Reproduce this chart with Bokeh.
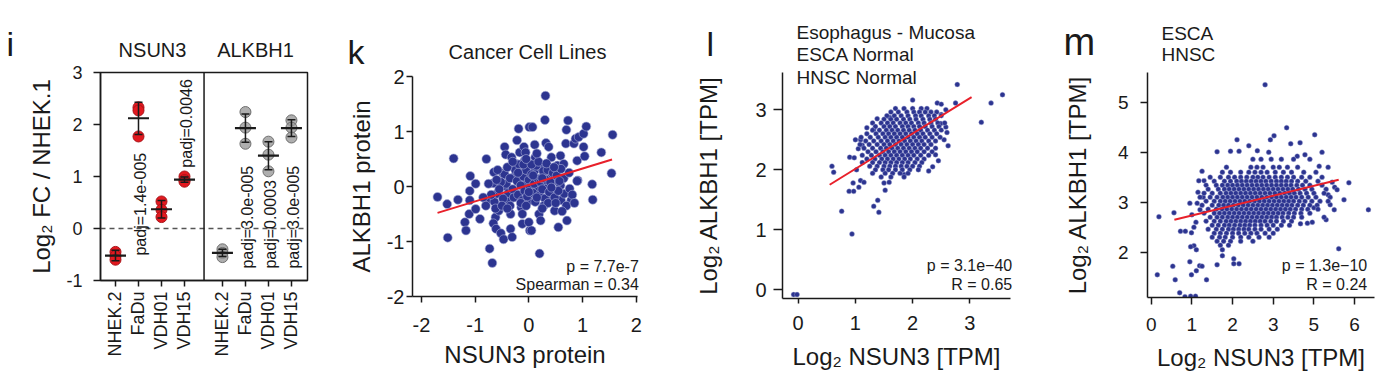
import math
from bokeh.plotting import figure
from bokeh.models import Range1d, FixedTicker, Span
from bokeh.core.properties import value
from bokeh.embed import file_html
from bokeh.resources import INLINE

FONT = "Liberation Sans"
NAVY = "#2c3490"
NAVY_EDGE = "#a9aed8"
FIT_RED = "#e8202a"
INK = "#1a1a1a"
PAGE_W, PAGE_H = 1382, 382

# ---------------- panel i data ----------------
i_cell_lines = ["NHEK.2", "FaDu", "VDH01", "VDH15"]
i_genes = ["NSUN3", "ALKBH1"]
nsun3_replicates = [[-0.45, -0.53, -0.60], [2.33, 2.27, 1.77], [0.52, 0.36, 0.22], [1.00, 0.93, 0.90]]
alkbh1_replicates = [[-0.40, -0.47, -0.55], [2.24, 1.94, 1.63], [1.67, 1.42, 1.10], [2.08, 1.94, 1.75]]
nsun3_mean = [-0.52, 2.12, 0.37, 0.94]
nsun3_sd = [0.10, 0.31, 0.17, 0.05]
alkbh1_mean = [-0.47, 1.93, 1.40, 1.93]
alkbh1_sd = [0.07, 0.27, 0.27, 0.16]
nsun3_padj = ["", "padj=1.4e-005", "", "padj=0.0046"]
alkbh1_padj = ["", "padj=3.0e-005", "padj=0.0003", "padj=3.0e-005"]
i_y_ticks = [-1, 0, 1, 2, 3]

# ---------------- panel k data (Cancer Cell Lines, protein) ----------------
k_points = [
    (0.31, 1.65), (-1.70, -0.19), (-1.52, -0.32), (-1.51, -0.93), (-1.40, 0.51), (-1.32, -0.24),
    (-1.09, 0.19), (-1.10, -0.08), (-0.99, 0.05), (-1.10, -0.25), (-1.11, -0.50), (-1.19, -0.65),
    (-1.17, -0.80), (-0.91, -0.59), (-0.99, -0.41), (-0.79, 0.50), (-0.73, -1.13), (-0.68, -1.39),
    (-0.78, -0.25), (-0.65, 0.26), (-0.66, 0.06), (-0.64, -0.28), (-0.62, -0.56), (-0.66, -0.67),
    (-0.61, -0.77), (-0.59, -0.13), (-0.56, -0.44), (-0.52, -0.85), (-0.47, -0.96), (-0.48, 0.24),
    (-0.45, 0.72), (-0.43, 0.58), (-0.40, -0.01), (-0.37, -0.25), (-0.34, -0.77), (-0.31, -0.92),
    (-0.34, -0.50), (-0.32, 0.53), (-0.28, 0.17), (-0.27, 0.35), (-0.25, -0.12), (-0.23, 0.41),
    (-0.22, 0.84), (-0.19, 1.05), (-0.17, 0.62), (-0.16, 0.23), (-0.14, -0.38), (-0.12, -0.50),
    (-0.12, -0.68), (-0.09, 0.72), (-0.08, 0.47), (-0.06, 0.62), (-0.03, 0.08), (0.01, 1.08),
    (0.07, 1.08), (0.02, -0.80), (0.00, -0.65), (0.05, -0.80), (0.03, -0.25), (0.06, -0.13),
    (0.11, 0.76), (0.11, 0.29), (0.12, 0.53), (0.16, -0.07), (0.19, -0.50), (0.20, -1.22),
    (0.22, -0.62), (0.22, 0.35), (0.28, 0.23), (0.30, 1.21), (0.32, 0.79), (0.34, -0.01),
    (0.37, 0.72), (0.40, -0.25), (0.42, 0.53), (0.43, 0.23), (0.45, -0.13), (0.48, -0.44),
    (0.50, 0.11), (0.53, 0.38), (0.55, -0.74), (0.59, 0.56), (0.59, 0.02), (0.60, -0.25),
    (0.65, 0.41), (0.66, -0.13), (0.69, 0.78), (0.70, 1.03), (0.73, 1.20), (0.71, -0.62),
    (0.76, -0.04), (0.79, -0.25), (0.81, -0.15), (0.84, 0.78), (0.87, 0.87), (0.90, 0.47),
    (0.91, 0.11), (0.93, 0.90), (1.02, 0.96), (1.02, 0.72), (1.04, 0.55), (1.07, 1.09),
    (1.18, 0.04), (1.19, -0.24), (1.35, 0.62), (1.56, 0.94), (1.54, 0.24),
    (-0.45, 0.22), (-0.42, 0.05), (-0.38, -0.12), (-0.35, 0.15), (-0.30, -0.05), (-0.28, -0.20),
    (-0.25, 0.30), (-0.22, 0.10), (-0.20, -0.15), (-0.18, 0.40), (-0.15, 0.02), (-0.12, -0.25),
    (-0.10, 0.18), (-0.08, -0.08), (-0.05, 0.30), (-0.03, -0.18), (0.00, 0.12), (0.02, -0.02),
    (0.05, 0.22), (0.08, -0.12), (0.10, 0.05), (0.12, -0.28), (0.14, 0.38), (0.17, 0.14),
    (0.20, -0.16), (0.22, 0.08), (0.25, -0.05), (0.27, 0.28), (0.30, -0.22), (0.32, 0.12),
    (0.35, 0.30), (0.38, -0.10), (0.40, 0.08), (0.45, 0.25), (0.48, -0.20), (0.52, 0.20),
    (0.55, -0.08), (-0.48, -0.22), (-0.52, 0.08), (-0.55, -0.05), (-0.60, 0.12), (-0.70, -0.15),
    (-0.75, 0.05), (-0.85, -0.20), (-0.80, -0.35), (0.60, 0.32), (0.65, 0.15), (0.70, -0.35),
    (0.75, 0.25), (0.85, -0.30), (0.90, 0.10),
    (-0.40, 0.35), (-0.35, -0.35), (-0.30, 0.45), (-0.20, 0.25), (-0.15, -0.30), (-0.10, 0.40),
    (-0.05, -0.35), (0.00, -0.10), (0.05, 0.40), (0.08, 0.20), (0.15, -0.20), (0.18, 0.45),
    (0.25, 0.15), (0.28, -0.35), (0.33, 0.42), (0.36, -0.30), (0.42, -0.02), (0.47, 0.35),
    (0.50, -0.30), (0.57, 0.10), (-0.58, 0.30), (-0.62, -0.40), (-0.50, -0.35), (-0.40, -0.40),
    (0.15, 0.60), (-0.05, 0.50), (0.25, -0.40), (0.62, -0.45),
]
k_nsun3 = [p[0] for p in k_points]
k_alkbh1 = [p[1] for p in k_points]
k_fit_x = [-1.70, 1.55]
k_fit_y = [-0.48, 0.49]
k_ticks = [-2, -1, 0, 1, 2]

# ---------------- panel l data (normal tissue, log2 TPM) ----------------
l_outliers = [
    (-0.08, -0.08), (-0.02, -0.08), (0.94, 0.93), (0.76, 1.31), (1.32, 1.39), (1.39, 1.49),
    (1.41, 1.29), (0.59, 2.06), (0.62, 1.96), (0.89, 1.64), (0.97, 1.64), (0.90, 2.21),
    (0.96, 1.78), (1.06, 1.71), (1.09, 1.82), (1.15, 1.79), (1.50, 1.78), (1.52, 1.66),
    (1.59, 1.79), (1.85, 1.92), (2.40, 2.25), (2.78, 3.42), (2.75, 3.11), (3.57, 3.25),
    (3.37, 3.11), (3.20, 2.79), (2.00, 3.16), (2.43, 3.11), (2.50, 3.09), (2.49, 2.77),
    (2.58, 2.71), (1.60, 2.87), (1.09, 2.50), (1.12, 2.41), (1.32, 2.67), (1.00, 2.50),
    (1.05, 2.35), (1.12, 2.12), (1.02, 2.00), (0.98, 2.20), (2.55, 2.50), (2.60, 2.62),
    (2.62, 2.40), (2.50, 2.92), (2.58, 3.00), (1.20, 2.70), (1.30, 2.78), (1.38, 2.85),
    (2.45, 2.15), (2.35, 2.05), (2.28, 1.98),
]
l_core_rows = [
    (3.02, [1.70, 1.85, 2.00, 2.15, 2.25]),
    (2.96, [1.62, 1.75, 1.90, 2.02, 2.12, 2.22, 2.32, 2.42]),
    (2.90, [1.55, 1.68, 1.80, 1.92, 2.05, 2.15, 2.28, 2.38, 2.50]),
    (2.84, [1.50, 1.62, 1.72, 1.84, 1.95, 2.06, 2.18, 2.30, 2.40]),
    (2.78, [1.45, 1.56, 1.66, 1.78, 1.88, 1.98, 2.10, 2.20, 2.32, 2.44, 2.56]),
    (2.72, [1.35, 1.50, 1.60, 1.70, 1.82, 1.92, 2.02, 2.12, 2.22, 2.34, 2.46]),
    (2.66, [1.30, 1.42, 1.54, 1.64, 1.74, 1.84, 1.94, 2.04, 2.14, 2.26, 2.38, 2.50]),
    (2.60, [1.20, 1.36, 1.48, 1.58, 1.68, 1.78, 1.88, 1.98, 2.08, 2.18, 2.30, 2.42]),
    (2.54, [1.10, 1.26, 1.40, 1.52, 1.62, 1.72, 1.82, 1.92, 2.02, 2.12, 2.22, 2.34, 2.48]),
    (2.48, [1.18, 1.32, 1.45, 1.56, 1.66, 1.76, 1.86, 1.96, 2.06, 2.16, 2.28, 2.40]),
    (2.42, [1.08, 1.24, 1.38, 1.50, 1.60, 1.70, 1.80, 1.90, 2.00, 2.10, 2.20, 2.32]),
    (2.36, [1.15, 1.30, 1.44, 1.54, 1.64, 1.74, 1.84, 1.94, 2.04, 2.14, 2.26, 2.40]),
    (2.30, [1.22, 1.36, 1.48, 1.58, 1.68, 1.78, 1.88, 1.98, 2.08, 2.20, 2.34]),
    (2.24, [1.12, 1.28, 1.42, 1.52, 1.62, 1.72, 1.82, 1.92, 2.02, 2.14, 2.28]),
    (2.18, [1.20, 1.34, 1.46, 1.56, 1.66, 1.76, 1.86, 1.96, 2.08, 2.20]),
    (2.12, [1.30, 1.42, 1.52, 1.62, 1.72, 1.82, 1.92, 2.04, 2.16]),
    (2.06, [1.25, 1.38, 1.50, 1.60, 1.70, 1.80, 1.90, 2.00, 2.12]),
    (2.00, [1.35, 1.48, 1.58, 1.70, 1.82, 1.95, 2.10]),
    (1.94, [1.30, 1.52, 1.65, 1.78, 1.92]),
    (1.88, [1.45, 1.62, 1.85]),
]
l_nsun3 = [p[0] for p in l_outliers] + [x for y, xs in l_core_rows for x in xs]
l_alkbh1 = [p[1] for p in l_outliers] + [y for y, xs in l_core_rows for x in xs]
l_fit_x = [0.55, 3.03]
l_fit_y = [1.75, 3.21]
l_x_ticks = [0, 1, 2, 3]
l_y_ticks = [0, 1, 2, 3]

# ---------------- panel m data (ESCA + HNSC tumours, log2 TPM) ----------------
m_outliers = [
    (2.80, 5.35), (3.33, 4.49), (4.02, 4.35), (2.11, 4.25), (2.93, 4.25), (3.02, 4.33),
    (3.43, 4.17), (3.66, 4.19), (4.20, 4.00), (4.13, 3.72), (1.62, 4.01), (1.95, 4.02),
    (2.16, 4.02), (2.40, 4.13), (2.61, 4.03), (2.89, 4.00), (3.59, 3.92), (3.78, 3.95),
    (1.25, 3.62), (1.17, 3.43), (1.30, 3.43), (0.19, 2.71), (0.56, 2.79), (0.95, 2.98),
    (1.13, 2.98), (0.15, 1.55), (0.53, 1.72), (0.59, 1.45), (0.70, 1.19), (0.83, 1.11),
    (0.97, 1.12), (1.09, 1.12), (0.95, 1.81), (0.99, 1.55), (1.11, 1.63), (1.19, 1.73),
    (1.25, 1.72), (1.36, 1.45), (0.72, 2.42), (0.84, 2.42), (0.99, 2.39), (1.05, 2.13),
    (1.11, 2.05), (0.97, 2.11), (1.62, 1.75), (2.03, 1.87), (2.03, 1.77), (2.16, 1.77),
    (1.75, 1.93), (4.61, 2.07), (4.30, 2.65), (5.34, 2.85), (4.74, 3.05), (4.86, 3.39),
    (4.45, 3.40), (4.51, 3.30), (4.57, 3.25), (4.00, 2.89), (3.96, 2.60), (3.84, 2.58),
    (3.67, 2.57), (4.40, 2.95), (4.50, 2.85), (4.25, 2.70), (4.35, 3.15), (4.20, 3.50),
    (1.00, 2.75), (1.10, 2.60), (1.20, 2.85), (1.28, 3.10), (1.15, 3.20), (1.05, 2.50),
]
m_core_rows = [
    (3.86, [2.50, 2.70, 2.95, 3.20, 3.50, 3.90]),
    (3.70, [1.85, 2.45, 2.60, 2.75, 3.00, 3.15, 3.35, 3.60, 4.35]),
    (3.60, [1.75, 1.95, 2.20, 2.40, 2.55, 2.70, 2.85, 3.05, 3.25, 3.45, 3.75, 4.05]),
    (3.50, [1.45, 1.70, 1.90, 2.05, 2.20, 2.35, 2.50, 2.62, 2.75, 2.90, 3.05, 3.20, 3.35, 3.50, 3.70, 3.90]),
    (3.42, [1.55, 1.80, 1.95, 2.10, 2.22, 2.34, 2.46, 2.58, 2.70, 2.82, 2.95, 3.08, 3.20, 3.32, 3.45, 3.60, 3.80, 4.10]),
    (3.34, [1.35, 1.60, 1.75, 1.88, 2.00, 2.12, 2.24, 2.36, 2.48, 2.60, 2.72, 2.84, 2.96, 3.08, 3.20, 3.32, 3.44, 3.58, 3.72, 3.90, 4.20]),
    (3.26, [1.40, 1.65, 1.80, 1.92, 2.04, 2.16, 2.28, 2.40, 2.52, 2.64, 2.76, 2.88, 3.00, 3.12, 3.24, 3.36, 3.48, 3.62, 3.78, 3.95, 4.30]),
    (3.18, [1.30, 1.50, 1.70, 1.84, 1.96, 2.08, 2.20, 2.32, 2.44, 2.56, 2.68, 2.80, 2.92, 3.04, 3.16, 3.28, 3.40, 3.52, 3.66, 3.82, 4.00, 4.25]),
    (3.10, [1.20, 1.45, 1.62, 1.76, 1.88, 2.00, 2.12, 2.24, 2.36, 2.48, 2.60, 2.72, 2.84, 2.96, 3.08, 3.20, 3.32, 3.44, 3.56, 3.70, 3.86, 4.05, 4.40]),
    (3.02, [1.35, 1.55, 1.70, 1.82, 1.94, 2.06, 2.18, 2.30, 2.42, 2.54, 2.66, 2.78, 2.90, 3.02, 3.14, 3.26, 3.38, 3.50, 3.64, 3.78, 3.95, 4.15, 4.35]),
    (2.94, [1.25, 1.50, 1.66, 1.78, 1.90, 2.02, 2.14, 2.26, 2.38, 2.50, 2.62, 2.74, 2.86, 2.98, 3.10, 3.22, 3.34, 3.46, 3.60, 3.74, 3.90, 4.08]),
    (2.86, [1.40, 1.60, 1.74, 1.86, 1.98, 2.10, 2.22, 2.34, 2.46, 2.58, 2.70, 2.82, 2.94, 3.06, 3.18, 3.30, 3.42, 3.55, 3.70, 3.85, 4.10]),
    (2.78, [1.30, 1.55, 1.68, 1.80, 1.92, 2.04, 2.16, 2.28, 2.40, 2.52, 2.64, 2.76, 2.88, 3.00, 3.12, 3.24, 3.38, 3.52, 3.68, 3.90]),
    (2.70, [1.45, 1.62, 1.75, 1.88, 2.00, 2.12, 2.24, 2.36, 2.48, 2.60, 2.72, 2.84, 2.96, 3.08, 3.22, 3.36, 3.50, 3.70]),
    (2.62, [1.35, 1.55, 1.70, 1.84, 1.96, 2.08, 2.20, 2.32, 2.44, 2.56, 2.68, 2.80, 2.94, 3.08, 3.25, 3.45]),
    (2.54, [1.50, 1.65, 1.80, 1.92, 2.05, 2.18, 2.30, 2.42, 2.55, 2.70, 2.85, 3.00, 3.20, 3.40]),
    (2.46, [1.40, 1.60, 1.75, 1.90, 2.02, 2.15, 2.28, 2.40, 2.55, 2.70, 2.90, 3.10]),
    (2.38, [1.55, 1.70, 1.85, 2.00, 2.15, 2.30, 2.45, 2.60, 2.80, 3.00]),
    (2.30, [1.50, 1.68, 1.82, 2.00, 2.20, 2.40, 2.65, 2.90]),
    (2.22, [1.62, 1.78, 1.95, 2.20, 2.50]),
    (2.14, [1.70, 1.90]),
    (2.05, [1.75]),
]
m_nsun3 = [p[0] for p in m_outliers] + [x for y, xs in m_core_rows for x in xs]
m_alkbh1 = [p[1] for p in m_outliers] + [y for y, xs in m_core_rows for x in xs]
m_fit_x = [0.57, 4.61]
m_fit_y = [2.65, 3.45]
m_x_ticks = [0, 1, 2, 3, 4, 5]
m_x_tick_labels = ["0", "1", "2", "3", "5", "6"]
m_y_ticks = [2, 3, 4, 5]

# ---------------- layout specs (page pixels; each figure absolutely placed) ----------------
SPEC = {
    "i": dict(left=0, width=340, bl=100, br=33, bt=72, bb=102, xr=(0.348, 9.348), yr=(-1.0, 3.0)),
    "k": dict(left=340, width=346, bl=72, br=49, bt=76, bb=86, xr=(-2.166, 2.024), yr=(-2.0, 2.0)),
    "l": dict(left=686, width=359, bl=96, br=35, bt=72, bb=84, xr=(-0.274, 3.71), yr=(-0.145, 3.62)),
    "m": dict(left=1045, width=337, bl=102, br=8, bt=72, bb=85, xr=(-0.091, 5.49), yr=(1.094, 5.594)),
}


def place(left):
    return {"position": "absolute", "left": f"{left}px", "top": "0px"}


def make_fig(key):
    s = SPEC[key]
    p = figure(width=s["width"], height=PAGE_H, x_range=Range1d(*s["xr"]), y_range=Range1d(*s["yr"]),
               output_backend="svg", toolbar_location=None,
               min_border_left=s["bl"], min_border_right=s["br"],
               min_border_top=s["bt"], min_border_bottom=s["bb"], styles=place(s["left"]))
    p.xgrid.visible = False
    p.ygrid.visible = False
    p.outline_line_color = None
    p.background_fill_color = "white"
    p.border_fill_color = None
    return p


def style_axes(p, xticks, yticks, tick_size, x_label, y_label,
               x_tick_out, y_tick_out, x_std, y_std, x_lab_std, y_lab_std, label_size="24px"):
    for ax in (p.xaxis[0], p.yaxis[0]):
        ax.axis_line_color = INK
        ax.axis_line_width = 1.5
        ax.major_tick_line_color = INK
        ax.major_tick_line_width = 1.5
        ax.major_tick_in = 0
        ax.minor_tick_line_color = None
        ax.major_label_text_font = FONT
        ax.major_label_text_font_size = tick_size
        ax.major_label_text_color = INK
        ax.axis_label_text_font = FONT
        ax.axis_label_text_font_size = label_size
        ax.axis_label_text_font_style = "normal"
        ax.axis_label_text_color = INK
    p.xaxis[0].ticker = FixedTicker(ticks=xticks, minor_ticks=[])
    p.yaxis[0].ticker = FixedTicker(ticks=yticks, minor_ticks=[])
    for ax, ticks in ((p.xaxis[0], xticks), (p.yaxis[0], yticks)):
        ax.major_label_overrides = {t: f"-{abs(t)}" for t in ticks if t < 0}
    p.xaxis[0].major_tick_out = x_tick_out
    p.yaxis[0].major_tick_out = y_tick_out
    p.xaxis[0].major_label_standoff = x_std
    p.yaxis[0].major_label_standoff = y_std
    if x_label:
        p.xaxis[0].axis_label = x_label
        p.xaxis[0].axis_label_standoff = x_lab_std
    if y_label:
        p.yaxis[0].axis_label = y_label
        p.yaxis[0].axis_label_standoff = y_lab_std


# ================= panel i =================
pi_ = make_fig("i")
pi_.outline_line_color = INK
pi_.outline_line_width = 1.5
I_POS = {"NSUN3": [1, 2, 3, 4], "ALKBH1": [5.65, 6.65, 7.65, 8.65]}
I_DIVIDER = 4.85
style_axes(pi_, I_POS["NSUN3"] + I_POS["ALKBH1"], i_y_ticks, "18px", None, "Log₂ FC / NHEK.1",
           x_tick_out=6, y_tick_out=7, x_std=5, y_std=11, x_lab_std=0, y_lab_std=8)
pi_.xaxis[0].major_label_overrides = {pos: lab for pos, lab in
                                      zip(I_POS["NSUN3"] + I_POS["ALKBH1"], i_cell_lines * 2)}
pi_.xaxis[0].major_label_orientation = math.pi / 2

pi_.add_layout(Span(location=0, dimension="width", line_color="#555555", line_width=1.3,
                    line_dash="5 4", level="underlay"))
pi_.add_layout(Span(location=I_DIVIDER, dimension="height", line_color=INK, line_width=1.5))

gene_sets = [
    ("NSUN3", nsun3_replicates, nsun3_mean, nsun3_sd, "#e3191f", "#a8141a", 1.0),
    ("ALKBH1", alkbh1_replicates, alkbh1_mean, alkbh1_sd, "#9a9a9a", "#6e6e6e", 0.8),
]
for gene, reps, means, sds, fill, edge, alpha in gene_sets:
    pos = I_POS[gene]
    xs = [pos[g] for g, r in enumerate(reps) for _ in r]
    ys = [v for r in reps for v in r]
    pi_.scatter(xs, ys, size=11, fill_color=fill, fill_alpha=alpha, line_color=edge, line_width=1)
    lo = [m - s for m, s in zip(means, sds)]
    hi = [m + s for m, s in zip(means, sds)]
    pi_.segment(x0=pos, y0=lo, x1=pos, y1=hi, line_color=INK, line_width=1.5)
    pi_.scatter(pos, lo, marker="dash", size=8, line_color=INK, line_width=1.5)
    pi_.scatter(pos, hi, marker="dash", size=8, line_color=INK, line_width=1.5)
    pi_.scatter(pos, means, marker="dash", size=21, line_color=INK, line_width=2.2)

I_PADJ_BASE = {"NSUN3": [None, -0.52, None, 1.17], "ALKBH1": [None, -0.77, -0.77, -0.77]}
padj_x, padj_y, padj_t = [], [], []
for gene, labels in (("NSUN3", nsun3_padj), ("ALKBH1", alkbh1_padj)):
    for g, lab in enumerate(labels):
        if lab:
            padj_x.append(I_POS[gene][g])
            padj_y.append(I_PADJ_BASE[gene][g])
            padj_t.append(lab)
pi_.text(x=padj_x, y=padj_y, text=padj_t, angle=math.pi / 2, text_align="left",
         text_baseline="middle", text_font=value(FONT), text_font_size="16px", text_color=INK,
         x_offset=2)

# ================= panel k =================
pk = make_fig("k")
style_axes(pk, k_ticks, k_ticks, "20px", "NSUN3 protein", "ALKBH1 protein",
           x_tick_out=6, y_tick_out=6, x_std=15, y_std=2, x_lab_std=6, y_lab_std=9)
pk.scatter(k_nsun3, k_alkbh1, size=9, fill_color=NAVY, line_color=NAVY_EDGE, line_width=0.6)
pk.line(k_fit_x, k_fit_y, line_color=FIT_RED, line_width=2)

# ================= panel l =================
pl = make_fig("l")
style_axes(pl, l_x_ticks, l_y_ticks, "20px", "Log₂ NSUN3 [TPM]", "Log₂ ALKBH1 [TPM]",
           x_tick_out=5, y_tick_out=9, x_std=12, y_std=7, x_lab_std=10, y_lab_std=30)
pl.scatter(l_nsun3, l_alkbh1, size=5, fill_color=NAVY, line_color=NAVY_EDGE, line_width=0.4)
pl.line(l_fit_x, l_fit_y, line_color=FIT_RED, line_width=2)

# ================= panel m =================
pm = make_fig("m")
style_axes(pm, m_x_ticks, m_y_ticks, "19px", "Log₂ NSUN3 [TPM]", "Log₂ ALKBH1 [TPM]",
           x_tick_out=7, y_tick_out=7, x_std=13, y_std=12, x_lab_std=10, y_lab_std=24)
pm.xaxis[0].major_label_overrides = {t: lab for t, lab in zip(m_x_ticks, m_x_tick_labels)}
pm.scatter(m_nsun3, m_alkbh1, size=5, fill_color=NAVY, line_color=NAVY_EDGE, line_width=0.4)
pm.line(m_fit_x, m_fit_y, line_color=FIT_RED, line_width=2)

# ================= text layer (panel letters, titles, statistics) =================
# positions are page pixels of the text baseline (y measured downward from the page top)
texts = [
    # (text, x, baseline_y, size_px, align)
    ("i", 6, 55, 34, "left"),
    (i_genes[0], 152, 56.7, 20, "center"),
    (i_genes[1], 255, 56.7, 20, "center"),
    ("k", 347, 63, 34, "left"),
    ("Cancer Cell Lines", 527, 58.3, 20, "center"),
    ("p = 7.7e-7", 638.3, 271.7, 16, "right"),
    ("Spearman = 0.34", 638.3, 289.3, 16, "right"),
    ("l", 706, 55, 34, "left"),
    ("Esophagus - Mucosa", 796, 38.3, 19, "left"),
    ("ESCA Normal", 796, 60.7, 19, "left"),
    ("HNSC Normal", 796, 84, 19, "left"),
    ("p = 3.1e\u221240", 1011.7, 270.7, 16, "right"),
    ("R = 0.65", 1011.7, 289.3, 16, "right"),
    ("m", 1063, 55, 38, "left"),
    ("ESCA", 1161, 39.3, 19, "left"),
    ("HNSC", 1161, 60.7, 19, "left"),
    ("p = 1.3e\u221210", 1366.7, 270.7, 16, "right"),
    ("R = 0.24", 1366.7, 290, 16, "right"),
]
BASELINE_SHIFT = 0.35  # renderer places the glyph baseline ~0.35 em below the anchor
overlay = figure(width=PAGE_W, height=PAGE_H, x_range=Range1d(0, PAGE_W), y_range=Range1d(PAGE_H, 0),
                 output_backend="svg", toolbar_location=None, x_axis_location=None,
                 y_axis_location=None, min_border=0, styles=place(0))
overlay.grid.visible = False
overlay.outline_line_color = None
overlay.background_fill_color = None
overlay.border_fill_color = None
groups = {}
for t, x, y, size, align in texts:
    groups.setdefault((size, align), []).append((t, x, y - BASELINE_SHIFT * size))
for (size, align), items in groups.items():
    overlay.text(x=[it[1] for it in items], y=[it[2] for it in items], text=[it[0] for it in items],
                 text_align=align, text_baseline="alphabetic", text_font=value(FONT),
                 text_font_size=f"{size}px", text_color=INK)

open("out.html", "w").write(file_html([pi_, pk, pl, pm, overlay], INLINE))
